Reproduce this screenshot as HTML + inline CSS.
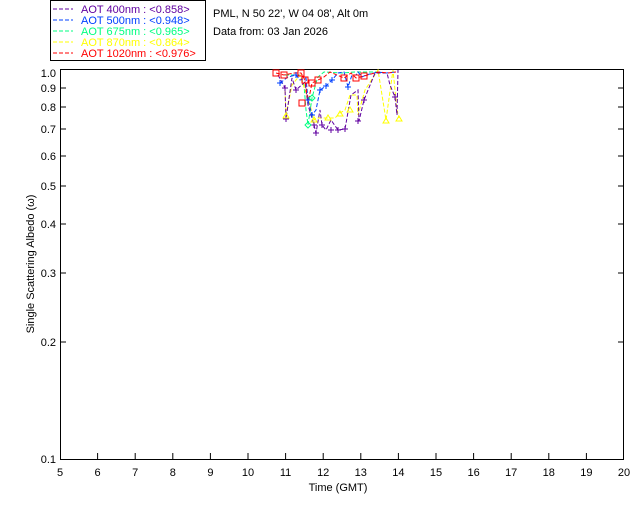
<!DOCTYPE html>
<html><head><style>
body{margin:0;background:#fff;}
svg text{font-family:"Liberation Sans",sans-serif;font-size:11px;}
</style></head><body>
<svg width="640" height="512" xmlns="http://www.w3.org/2000/svg">
<rect width="640" height="512" fill="#fff"/>
<rect x="50.5" y="0.5" width="155" height="60" fill="#fff" stroke="#000"/>
<g style="font-size:10.5px">
<line x1="53" y1="9" x2="73" y2="9" stroke="#6000a0" stroke-dasharray="4,2"/><text x="81" y="13" fill="#6000a0">AOT  400nm : &lt;0.858&gt;</text>
<line x1="53" y1="20" x2="73" y2="20" stroke="#0040ff" stroke-dasharray="4,2"/><text x="81" y="24" fill="#0040ff">AOT  500nm : &lt;0.948&gt;</text>
<line x1="53" y1="31" x2="73" y2="31" stroke="#00ff80" stroke-dasharray="4,2"/><text x="81" y="35" fill="#00ff80">AOT  675nm : &lt;0.965&gt;</text>
<line x1="53" y1="42" x2="73" y2="42" stroke="#ffff00" stroke-dasharray="4,2"/><text x="81" y="46" fill="#ffff00">AOT  870nm : &lt;0.864&gt;</text>
<line x1="53" y1="53" x2="73" y2="53" stroke="#ff0000" stroke-dasharray="4,2"/><text x="81" y="57" fill="#ff0000">AOT 1020nm : &lt;0.976&gt;</text>
</g>
<text x="213" y="17">PML, N 50 22', W 04 08', Alt 0m</text>
<text x="213" y="35">Data from: 03 Jan 2026</text>
<rect x="60.5" y="69.5" width="563" height="390" fill="none" stroke="#000"/>
<g stroke="#000">
<line x1="60" y1="88" x2="66" y2="88"/><line x1="618" y1="88" x2="624" y2="88"/>
<line x1="60" y1="107" x2="66" y2="107"/><line x1="618" y1="107" x2="624" y2="107"/>
<line x1="60" y1="129" x2="66" y2="129"/><line x1="618" y1="129" x2="624" y2="129"/>
<line x1="60" y1="156" x2="66" y2="156"/><line x1="618" y1="156" x2="624" y2="156"/>
<line x1="60" y1="186" x2="66" y2="186"/><line x1="618" y1="186" x2="624" y2="186"/>
<line x1="60" y1="224" x2="66" y2="224"/><line x1="618" y1="224" x2="624" y2="224"/>
<line x1="60" y1="273" x2="66" y2="273"/><line x1="618" y1="273" x2="624" y2="273"/>
<line x1="60" y1="342" x2="66" y2="342"/><line x1="618" y1="342" x2="624" y2="342"/>
</g>
<g text-anchor="end">
<text x="56" y="77">1.0</text><text x="56" y="92">0.9</text><text x="56" y="111">0.8</text><text x="56" y="133">0.7</text><text x="56" y="160">0.6</text><text x="56" y="190">0.5</text><text x="56" y="228">0.4</text><text x="56" y="277">0.3</text><text x="56" y="346">0.2</text><text x="56" y="463">0.1</text>
</g>
<g stroke="#000">
<line x1="97.6" y1="459" x2="97.6" y2="453"/><line x1="135.2" y1="459" x2="135.2" y2="453"/><line x1="172.8" y1="459" x2="172.8" y2="453"/><line x1="210.4" y1="459" x2="210.4" y2="453"/><line x1="248" y1="459" x2="248" y2="453"/><line x1="285.6" y1="459" x2="285.6" y2="453"/><line x1="323.2" y1="459" x2="323.2" y2="453"/><line x1="360.8" y1="459" x2="360.8" y2="453"/><line x1="398.4" y1="459" x2="398.4" y2="453"/><line x1="436" y1="459" x2="436" y2="453"/><line x1="473.6" y1="459" x2="473.6" y2="453"/><line x1="511.2" y1="459" x2="511.2" y2="453"/><line x1="548.8" y1="459" x2="548.8" y2="453"/><line x1="586.4" y1="459" x2="586.4" y2="453"/>
</g>
<g text-anchor="middle">
<text x="60" y="476">5</text><text x="97.6" y="476">6</text><text x="135.2" y="476">7</text><text x="172.8" y="476">8</text><text x="210.4" y="476">9</text><text x="248" y="476">10</text><text x="285.6" y="476">11</text><text x="323.2" y="476">12</text><text x="360.8" y="476">13</text><text x="398.4" y="476">14</text><text x="436" y="476">15</text><text x="473.6" y="476">16</text><text x="511.2" y="476">17</text><text x="548.8" y="476">18</text><text x="586.4" y="476">19</text><text x="624" y="476">20</text>
<text x="338" y="491">Time (GMT)</text>
<text transform="translate(34,264) rotate(-90)">Single Scattering Albedo (ω)</text>
</g>
<g fill="none" stroke-dasharray="4,2">
<polyline stroke="#00ff80" points="285,75 300,75 304,85 306,110 308,125 312,98 316,83 318,77 324,72 342,73 355,72 378,72"/>
<polyline stroke="#ffff00" points="285,90 286,115 292,85 300,75 310,105 314,120 316,118 320,118 328,118 335,118 340,113 345,110 350,95 357,95 358,115 363,97 365,90 378,70 386,120 393,70 397,110 399,118"/>
<polyline stroke="#6000a0" points="278,75 285,88 286,119 292,78 296,90 305,82 308,105 314,125 316,133 320,110 322,125 326,130 331,120 338,130 345,129 351,95 358,90 359,121 364,100 375,73 387,73 390,85 395,97 397,115 398,70"/>
<polyline stroke="#0040ff" points="280,83 288,77 296,75 300,80 306,78 308,100 312,115 316,110 320,90 326,86 332,80 338,73 344,72 348,87 352,75 356,75 358,72 362,77 366,75 378,72 386,73 396,72"/>
<polyline stroke="#ff0000" points="276,73 284,75 294,73 301,73 305,80 308,103 312,83 318,80 324,77 330,72 344,78 351,73 356,78 364,76 378,72 388,73 396,72"/>
</g>
<g stroke="#6000a0" fill="none">
<path d="M282,88h6M285,85v6M283,119h6M286,116v6M293,90h6M296,87v6M311,125h6M314,122v6M313,133h6M316,130v6M319,125h6M322,122v6M328,130h6M331,127v6M335,130h6M338,127v6M342,129h6M345,126v6M355,121h6M358,118v6M361,100h6M364,97v6M392,97h6M395,94v6"/>
</g>
<g stroke="#ffff00" fill="none">
<path d="M283,118l3,-5l3,5z M311,122l3,-5l3,5z M325,120l3,-5l3,5z M337,116l3,-5l3,5z M347,112l3,-5l3,5z M383,123l3,-5l3,5z M396,121l3,-5l3,5z"/>
</g>
<g stroke="#0040ff" fill="none">
<path d="M277,83h6M280,80v6M293,75h6M296,72v6M305,100h6M308,97v6M309,115h6M312,112v6M317,90h6M320,87v6M323,86h6M326,83v6M329,80h6M332,77v6M345,87h6M348,84v6"/>
</g>
<g stroke="#00ff80" fill="none">
<path d="M308,122l3,3l-3,3l-3,-3z M312,95l3,3l-3,3l-3,-3z"/>
</g>
<g fill="none" stroke="#ff0000">
<rect x="273" y="70" width="6" height="6"/><rect x="281" y="72" width="6" height="6"/><rect x="298" y="70" width="6" height="6"/><rect x="302" y="77" width="6" height="6"/><rect x="299" y="100" width="6" height="6"/><rect x="309" y="80" width="6" height="6"/><rect x="315" y="77" width="6" height="6"/><rect x="341" y="75" width="6" height="6"/><rect x="353" y="75" width="6" height="6"/><rect x="361" y="73" width="6" height="6"/>
</g>
</svg>
</body></html>
